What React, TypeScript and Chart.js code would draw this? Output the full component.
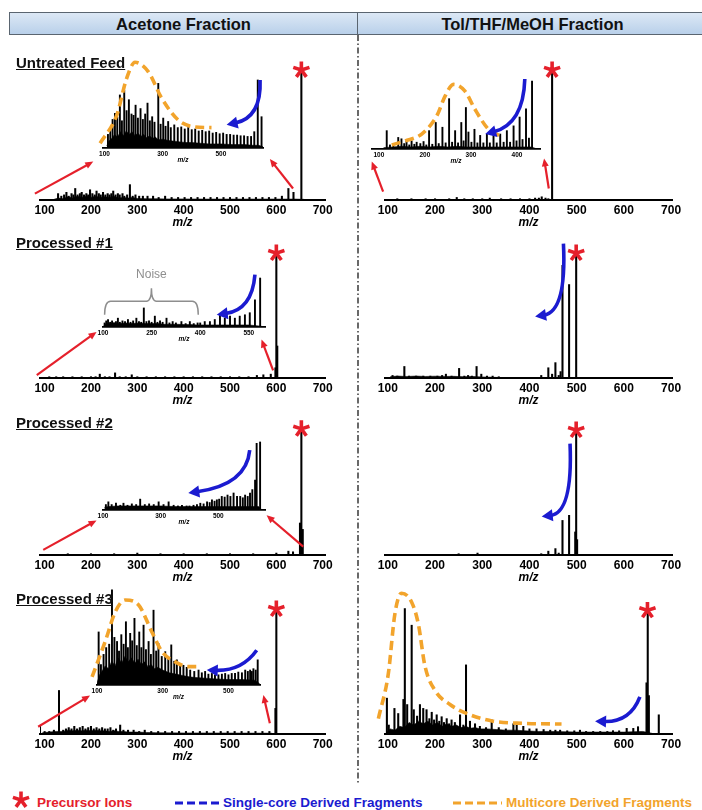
import React, { useEffect, useRef } from 'react';
import { Chart, registerables } from 'chart.js';

Chart.register(...registerables);

const FONT = "'Liberation Sans', Arial, Helvetica, sans-serif";
const RED = '#e5202b';
const BLUE = '#1b1bd0';
const ORANGE = '#f2a42c';
const GRAY = '#8e8e8e';

// ---------- tick labels ----------
const MAIN_TICKS = [100, 200, 300, 400, 500, 600, 700];
const INSET_TICKS_A = [100, 300, 500];
const INSET_TICKS_B = [100, 200, 300, 400];
const INSET_TICKS_C = [100, 250, 400, 550];

// ---------- Untreated feed, acetone ----------
const FEED_ACE_MZ = [129,136,142,147,152,158,162,166,171,176,180,185,190,194,198,203,208,212,217,221,226,231,236,240,244,248,253,258,262,268,272,278,284,290,296,304,312,322,334,346,360,374,388,402,416,430,444,458,472,486,500,514,528,542,556,570,584,598,612,626,637,654];
const FEED_ACE_INT = [5,3,4,6,3,5,4,9,4,5,6,4,5,4,8,5,4,7,5,4,6,4,5,4,5,7,4,5,4,5,3,4,12,3,4,3,3,3,3,2,3,2,2,2,2,2,2,2,2,2,2,2,2,2,2,2,2,2,3,9,6,100];
const FEED_ACE_BASE_MZ = [120,130,140,150,160,170,180,190,200,210,220,230,240,250,260,270,280,290,300,320,340,360,400,450,500,550,600,640,660];
const FEED_ACE_BASE_INT = [0.5,1.5,1,2.5,1.5,3,2,3,2,3,2,2.5,2,3,1.5,2,1.5,2,1.2,1,1,0.8,0.8,0.7,0.7,0.7,0.7,0.7,0.5];
const FEED_ACE_IN_MZ = [112,120,128,136,144,153,160,168,176,184,193,200,207,215,224,232,240,248,256,264,272,285,293,302,310,319,328,340,352,364,376,388,400,412,424,436,448,460,472,484,496,508,520,532,544,556,568,580,592,604,615,627,640];
const FEED_ACE_IN_INT = [20,30,42,51,45,78,40,85,55,71,50,48,63,44,58,42,50,66,40,46,38,95,35,44,32,39,30,34,30,31,28,30,27,28,25,26,24,25,22,23,21,22,20,20,19,19,18,18,17,17,24,100,46];
const FEED_ACE_IN_BASE_MZ = [108,115,125,135,145,155,165,175,185,195,205,215,225,235,245,255,265,275,285,300,320,340,360,380,400,430,460,500,540,580,610,630,645];
const FEED_ACE_IN_BASE_INT = [3,10,14,20,16,24,18,25,20,24,18,22,17,20,15,18,14,16,12,13,11,10,9,8,8,7,6,6,5,5,4,4,2];
const FEED_ACE_ENV_MZ = [85,142,176,205,251,297,354,411,468];
const FEED_ACE_ENV_INT = [7,48,102,126,112,73,41,31,30];

// ---------- Untreated feed, Tol/THF/MeOH ----------
const FEED_TOL_MZ = [120,150,180,200,230,246,262,280,300,316,340,360,380,400,412,420,426,434,440,448];
const FEED_TOL_INT = [1,1,1,1,1,2,1,1,1,1.5,1,1,1,1,1.5,1.5,2.5,1.5,1,100];
const FEED_TOL_IN_MZ = [117,124,131,142,149,155,160,166,171,177,182,190,197,203,209,216,223.5,230,238,245,252.5,259,265.6,272,279,284,289,294.5,301,307.6,314,320,327,334.6,341,349,356,363.6,371,378,385,392.6,399,405.7,412,419.6,426,432.7];
const FEED_TOL_IN_INT = [27,6,8,17,15,8,12,6,12,7,10,8,11,6,27,7,39,8,32,9,74,10,27,9,39,12,61,25,10,29,9,20,9,22,9,20,9,22,10,27,10,34,12,47,14,59,16,100];
const FEED_TOL_IN_BASE_MZ = [110,130,150,170,190,210,230,250,270,290,310,330,350,370,390,410,430,440];
const FEED_TOL_IN_BASE_INT = [2,3,4,3,4,3,4,3,4,3,3,3,3,3,3,3,3,1];
const FEED_TOL_ENV_MZ = [128,157,193,226,244,262,287,309,338,364];
const FEED_TOL_ENV_INT = [6,12,22,49,78,95,85,58,29,19];

// ---------- Processed #1 ----------
const P1_ACE_MZ = [110,125,140,160,180,200,210,219,230,240,252,262,275,288,300,320,340,360,380,400,420,440,460,480,500,520,540,558,572,588,598,600,602];
const P1_ACE_INT = [1,1,1,1,1,1,1,3,1,1,4,1,1,2.5,1,1,1,1,1,1,1,1,1,1,1,1,1,2,2.5,3,8,96,25];
const P1_ACE_IN_MZ = [105,110,115.5,122,128,134,140,146,152,160,168,177,185,193,203,211,218,226,234,242,250,260,268,276,284,296,305,315,325,342,355,368,380,392,400,414,430,445,461,476,492,507,522,538,553,569,585];
const P1_ACE_IN_INT = [6,9,11,7,9,6,8,13,7,9,8,11,7,9,13,8,7,28,8,9,7,16,7,9,7,13,6,8,6,8,5,8,5,6,6,8,8,11,18,13,16,13,16,18,21,40,72];
const P1_ACE_IN_BASE_MZ = [102,110,130,150,170,190,210,230,250,270,290,310,330,350,370,390,410,450,500,550,590];
const P1_ACE_IN_BASE_INT = [2,5,6,5,6,5,6,5,5,5,4,4,4,3.5,3.5,3,3,3,3,3,1];
const P1_TOL_MZ = [110,120,135,145,160,175,190,205,215,223,235,251,262,270,278,288,298,310,322,335,425,440,448,455,462,466,470,484,499];
const P1_TOL_INT = [2,1.5,9,1.5,1.5,1.5,1.5,1.5,2,3,1.5,7.5,1.5,2,1.5,9,3,1.5,1.5,1,2,8,3,12,2,5,88,73,96];
const P1_TOL_BASE_MZ = [105,120,140,160,180,200,220,240,260,280,300,320,340];
const P1_TOL_BASE_INT = [1,1.5,1.2,1.5,1.2,1.4,1.2,1.3,1,1.2,0.8,0.6,0.3];

// ---------- Processed #2 ----------
const P2_ACE_MZ = [150,200,250,300,350,400,450,500,550,600,626,636,651,654,657];
const P2_ACE_INT = [1,1,1,1.5,1,1,1,1,1,1.5,3,2.5,25,97,20];
const P2_ACE_IN_MZ = [110,118.6,130,145,160,171,185,200,215,229,245,260,276,293,310,327.6,345,360,374,390,400,414,426,437.6,449,461,470,478,487,495,503,512,522,532,542,553,565,576,585,593,602,610,618,627.6,633,645];
const P2_ACE_IN_INT = [8,12,8,10,7,10,7,9,8,16,8,9,8,12,8,12,7,6,7,6,6,7,8,10,9,12,11,15,13,15,16,20,19,22,20,25,20,20,18,22,20,25,30,44,98,100];
const P2_ACE_IN_BASE_MZ = [105,120,150,200,250,300,350,400,450,500,550,600,640,650];
const P2_ACE_IN_BASE_INT = [4,5,6,6,6,6,5,5,5,5,5,5,5,1];
const P2_TOL_MZ = [150,200,250,290,350,425,440,455,462,470,484,497,499,501];
const P2_TOL_INT = [0.5,0.5,1,1.5,0.5,1,3,5,1.5,27,31,18,96,12];

// ---------- Processed #3 ----------
const P3_ACE_MZ = [90,100,110,120,131,140,146,152,158,164,170,176,182,188,194,200,206,212,218,224,230,236,242,248,254,263,270,280,292,304,316,330,345,360,375,390,405,420,435,450,465,480,495,510,525,540,555,570,585,598,600];
const P3_ACE_INT = [6,2,2,3,34,3,4,5,4,6,4,5,6,4,5,6,4,5,4,5,4,4,5,3,4,7,3,3,3,2,3,2,2,2,2,2,2,2,2,2,2,2,2,2,2,2,2,2,2,20,96];
const P3_ACE_BASE_MZ = [95,110,125,140,150,160,170,180,190,200,210,220,230,240,250,260,270,280,300,320,340,400,500,590];
const P3_ACE_BASE_INT = [1,1.5,2,2,3,2.5,3,2.5,3,2.5,3,2.5,2.5,2,2.5,2,2,1.5,1.5,1.2,1,0.8,0.7,0.6];
const P3_ACE_IN_MZ = [105,112,120,128,137,145.6,153,161,167,174,181,188,194,201,207,214,221,228.6,235,241.7,249,257,264,272,280,287,297,307.6,317,326,335,343,353,363,373,383.6,396,409,419,429,439,449.5,459,469.6,480,490,500,510,520,530,541,551,559,566,571,576,583,589];
const P3_ACE_IN_INT = [78,30,45,55,60,140,70,64,50,74,60,93,55,76,65,98,58,78,55,88,52,64,45,110,50,61,42,49,40,59,35,37,30,29,26,22,20,22,18,20,16,17,15,15,16,17,15,17,17,19,18,22,20,22,20,24,22,37];
const P3_ACE_IN_BASE_MZ = [100,108,115,125,135,145,155,165,175,185,195,205,215,225,235,245,255,265,275,285,300,320,340,360,380,400,430,460,500,540,580,595];
const P3_ACE_IN_BASE_INT = [3,15,20,28,24,35,28,40,32,42,34,40,32,38,30,34,27,30,24,26,22,18,16,14,12,11,10,9,8,8,7,2];
const P3_ACE_ENV_MZ = [85,125,156,186,226,267,298,338,378,414];
const P3_ACE_ENV_INT = [12,64,108,125,118,78,49,34,27,27];
const P3_TOL_MZ = [98,102,114,122,133,136,141,150.5,155,162,168,175,182,188,193,198,203.5,209,214,219,224.7,230,235,242,253,260,265.6,274,284.7,295,308,320,335,350,366,373,387,400,415,430,444,455,465,480,495,507,520,535,550,565,577,590,606,620,630,648,650.6,653,674];
const P3_TOL_INT = [28,7,20,16,27,98,23,85,19,14,23,20,19,12,17,11,15,10,13.5,9,12,8,11,9,15,7,54,10,8,6,5,11,5,4,8,7,6,4,4,3.5,3,3,3,2.5,2.5,3,2,2,2,2,2.6,2.5,4.4,4.4,5.7,40,95,30,15];
const P3_TOL_BASE_MZ = [96,105,115,125,135,145,155,165,175,185,195,205,215,225,235,245,255,265,275,285,295,310,330,350,370,390,420,450,500,550,600,640,660];
const P3_TOL_BASE_INT = [1,4,3,6,5,9,7,10,8,10,7,9,6,8,6,7,5,6,4.5,5,4,4,3.5,3,3,2.5,2,2,1.5,1.5,1.5,2,0.5];
const P3_TOL_ENV_MZ = [80,101,115,129,150.5,164.6,178.7,200,231.7,274,323,387,468];
const P3_TOL_ENV_INT = [12,47,94,110,103,86,53,34,23,15,10,8.3,7.8];

// ---------- helpers ----------
type XY = { x: number; y: number };
const xy = (xs: number[], ys: number[]): XY[] => xs.map((x, i) => ({ x, y: ys[i] ?? 0 }));
const p = (x: number, y: number): XY => ({ x, y });

interface Marks {
  stars?: XY[];
  red?: XY[][];
  blue?: XY[][];
  bracket?: { x0: number; x1: number; yLow: number; yMid: number; yTip: number; label: string; labelY: number };
}

interface Spec {
  left: number; top: number; width: number; height: number;
  padL: number; padR: number; padT: number;
  xMin: number; xMax: number; yMax: number; ticks: number[];
  axisH: number; fontSize: number; tickPad: number; borderW: number; barW: number;
  peaks: XY[]; base?: XY[]; env?: XY[]; marks: Marks; inset: boolean;
}

function mainSpec(col: number, baseline: number, peaks: XY[], base: XY[] | undefined, env: XY[] | undefined, marks: Marks): Spec {
  return {
    left: col === 0 ? 0 : 358, top: baseline - 160, width: col === 0 ? 355 : 344, height: 190,
    padL: col === 0 ? 40 : 27, padR: 30, padT: 0,
    xMin: col === 0 ? 90 : 94, xMax: col === 0 ? 705 : 702, yMax: 125, ticks: MAIN_TICKS,
    axisH: 30, fontSize: 12, tickPad: 3.5, borderW: 2, barW: 1.4,
    peaks, base, env, marks, inset: false,
  };
}

function insetSpec(axL: number, axR: number, baseline: number, xMin: number, xMax: number, ticks: number[], peaks: XY[], base: XY[] | undefined, env: XY[] | undefined, marks: Marks): Spec {
  const l = Math.round(axL);
  const r = Math.round(axR);
  return {
    left: l - 25, top: baseline - 112, width: r - l + 50, height: 128,
    padL: 25, padR: 25, padT: 12,
    xMin, xMax, yMax: 147, ticks,
    axisH: 16, fontSize: 6.5, tickPad: 2.5, borderW: 1.8, barW: 1.25,
    peaks, base, env, marks, inset: true,
  };
}

function arrowHead(ctx: CanvasRenderingContext2D, x: number, y: number, ang: number, len: number, wid: number, color: string) {
  ctx.save();
  ctx.translate(x, y);
  ctx.rotate(ang);
  ctx.beginPath();
  ctx.moveTo(0, 0);
  ctx.lineTo(-len, wid / 2);
  ctx.lineTo(-len, -wid / 2);
  ctx.closePath();
  ctx.fillStyle = color;
  ctx.fill();
  ctx.restore();
}

function drawStar(ctx: CanvasRenderingContext2D, cx: number, cy: number, r: number, w: number, color: string) {
  ctx.save();
  ctx.strokeStyle = color;
  ctx.lineWidth = w;
  ctx.lineCap = 'butt';
  ctx.beginPath();
  for (let k = 0; k < 5; k++) {
    const a = -Math.PI / 2 + (k * 2 * Math.PI) / 5;
    ctx.moveTo(cx, cy);
    ctx.lineTo(cx + r * Math.cos(a), cy + r * Math.sin(a));
  }
  ctx.stroke();
  ctx.restore();
}

function marksPlugin(marks: Marks) {
  return {
    id: 'marks',
    afterDatasetsDraw(chart: any) {
      const ctx: CanvasRenderingContext2D = chart.ctx;
      const xs = chart.scales.x;
      const ys = chart.scales.y;
      const px = (v: number) => xs.getPixelForValue(v);
      const py = (v: number) => ys.getPixelForValue(v);
      ctx.save();
      (marks.red || []).forEach(([a, b]) => {
        const ax = px(a.x), ay = py(a.y), bx = px(b.x), by = py(b.y);
        const ang = Math.atan2(by - ay, bx - ax);
        const len = 8;
        ctx.strokeStyle = RED;
        ctx.lineWidth = 2.2;
        ctx.beginPath();
        ctx.moveTo(ax, ay);
        ctx.lineTo(bx - Math.cos(ang) * len * 0.8, by - Math.sin(ang) * len * 0.8);
        ctx.stroke();
        arrowHead(ctx, bx, by, ang, len, 7, RED);
      });
      (marks.blue || []).forEach(([a, c, b]) => {
        const ax = px(a.x), ay = py(a.y), cx = px(c.x), cy = py(c.y), bx = px(b.x), by = py(b.y);
        const ang = Math.atan2(by - cy, bx - cx);
        const len = 11;
        ctx.strokeStyle = BLUE;
        ctx.lineWidth = 3.6;
        ctx.lineCap = 'butt';
        ctx.beginPath();
        ctx.moveTo(ax, ay);
        ctx.quadraticCurveTo(cx, cy, bx - Math.cos(ang) * len * 0.8, by - Math.sin(ang) * len * 0.8);
        ctx.stroke();
        arrowHead(ctx, bx, by, ang, len, 12, BLUE);
      });
      if (marks.bracket) {
        const b = marks.bracket;
        const x0 = px(b.x0), x1 = px(b.x1), xm = (x0 + x1) / 2;
        const yl = py(b.yLow), ym = py(b.yMid), yt = py(b.yTip);
        ctx.strokeStyle = GRAY;
        ctx.lineWidth = 1.5;
        ctx.beginPath();
        ctx.moveTo(x0, yl);
        ctx.quadraticCurveTo(x0, ym, x0 + 6, ym);
        ctx.lineTo(xm - 5, ym);
        ctx.quadraticCurveTo(xm, ym, xm, yt);
        ctx.quadraticCurveTo(xm, ym, xm + 5, ym);
        ctx.lineTo(x1 - 6, ym);
        ctx.quadraticCurveTo(x1, ym, x1, yl);
        ctx.stroke();
        ctx.fillStyle = GRAY;
        ctx.font = `12px ${FONT}`;
        ctx.textAlign = 'center';
        ctx.textBaseline = 'middle';
        ctx.fillText(b.label, xm, py(b.labelY));
      }
      (marks.stars || []).forEach((s) => {
        drawStar(ctx, px(s.x), py(s.y) - 2, 8.5, 3.6, RED);
      });
      ctx.restore();
    },
  };
}

function Panel({ spec }: { spec: Spec }) {
  const ref = useRef<HTMLCanvasElement | null>(null);
  useEffect(() => {
    const canvas = ref.current;
    if (!canvas) return;
    const datasets: any[] = [];
    if (spec.env) {
      datasets.push({
        type: 'line', data: spec.env, borderColor: ORANGE, borderWidth: 3.6, borderDash: [9, 5],
        pointRadius: 0, fill: false, cubicInterpolationMode: 'monotone', clip: false, order: 0,
      });
    }
    datasets.push({
      type: 'bar', data: spec.peaks, backgroundColor: '#000', borderWidth: 0,
      barThickness: spec.barW, grouped: false, order: 1,
    });
    if (spec.base) {
      datasets.push({
        type: 'line', data: spec.base, borderColor: '#000', borderWidth: 0.6, backgroundColor: '#000',
        fill: 'origin', pointRadius: 0, tension: 0, order: 2,
      });
    }
    const chart = new Chart(canvas, {
      type: 'bar',
      data: { datasets },
      options: {
        responsive: false,
        maintainAspectRatio: false,
        animation: false,
        devicePixelRatio: 1,
        events: [],
        layout: { padding: { left: spec.padL, right: spec.padR, top: spec.padT, bottom: 0 } },
        plugins: { legend: { display: false }, tooltip: { enabled: false }, title: { display: false } },
        scales: {
          x: {
            type: 'linear', min: spec.xMin, max: spec.xMax, offset: false,
            afterBuildTicks: (s: any) => { s.ticks = spec.ticks.map((v) => ({ value: v })); },
            afterFit: (s: any) => { s.height = spec.axisH; },
            grid: { display: false, drawTicks: false },
            border: { display: true, color: '#000', width: spec.borderW },
            ticks: {
              autoSkip: false, maxRotation: 0, minRotation: 0, padding: spec.tickPad, color: '#000',
              font: { family: FONT, size: spec.fontSize, weight: 'bold' },
            },
            title: {
              display: true, text: 'm/z', color: '#000', padding: { top: 0, bottom: 0 },
              font: { family: FONT, size: spec.fontSize, weight: 'bold', style: 'italic' },
            },
          },
          y: { display: false, min: 0, max: spec.yMax },
        },
      } as any,
      plugins: [marksPlugin(spec.marks)],
    });
    return () => chart.destroy();
  }, [spec]);
  return (
    <canvas
      ref={ref}
      width={spec.width}
      height={spec.height}
      style={{ position: 'absolute', left: spec.left, top: spec.top, width: spec.width, height: spec.height }}
    />
  );
}

// ---------- panels ----------
const MAIN_SPECS: Spec[] = [
  mainSpec(0, 200, xy(FEED_ACE_MZ, FEED_ACE_INT), xy(FEED_ACE_BASE_MZ, FEED_ACE_BASE_INT), undefined, {
    stars: [p(654, 100)], red: [[p(79, 5), p(205, 30)], [p(636, 9), p(586, 32)]],
  }),
  mainSpec(1, 200, xy(FEED_TOL_MZ, FEED_TOL_INT), undefined, undefined, {
    stars: [p(448, 100)], red: [[p(90, 6.5), p(66, 30)], [p(441, 9), p(431, 32.5)]],
  }),
  mainSpec(0, 378, xy(P1_ACE_MZ, P1_ACE_INT), undefined, undefined, {
    stars: [p(600, 96)], red: [[p(83, 2.3), p(212, 36)], [p(593, 6), p(568, 30)]],
  }),
  mainSpec(1, 378, xy(P1_TOL_MZ, P1_TOL_INT), xy(P1_TOL_BASE_MZ, P1_TOL_BASE_INT), undefined, {
    stars: [p(499, 96)], blue: [[p(472, 105), p(479, 52), p(412, 48)]],
  }),
  mainSpec(0, 555, xy(P2_ACE_MZ, P2_ACE_INT), undefined, undefined, {
    stars: [p(654, 97)], red: [[p(97, 4), p(212, 27)], [p(658, 6.5), p(579, 31)]],
  }),
  mainSpec(1, 555, xy(P2_TOL_MZ, P2_TOL_INT), undefined, undefined, {
    stars: [p(499, 96)], blue: [[p(486, 87), p(492, 33), p(426, 30)]],
  }),
  mainSpec(0, 734, xy(P3_ACE_MZ, P3_ACE_INT), xy(P3_ACE_BASE_MZ, P3_ACE_BASE_INT), undefined, {
    stars: [p(600, 96)], red: [[p(86, 5.7), p(198, 30)], [p(586, 8.4), p(572, 30.5)]],
  }),
  mainSpec(1, 734, xy(P3_TOL_MZ, P3_TOL_INT), xy(P3_TOL_BASE_MZ, P3_TOL_BASE_INT), xy(P3_TOL_ENV_MZ, P3_TOL_ENV_INT), {
    stars: [p(650, 95)], blue: [[p(634, 29), p(613, 9), p(539, 10)]],
  }),
];

const INSET_SPECS: Spec[] = [
  insetSpec(103, 263, 148, 95, 645, INSET_TICKS_A, xy(FEED_ACE_IN_MZ, FEED_ACE_IN_INT), xy(FEED_ACE_IN_BASE_MZ, FEED_ACE_IN_BASE_INT), xy(FEED_ACE_ENV_MZ, FEED_ACE_ENV_INT), {
    blue: [[p(635, 100), p(640, 45), p(520, 34)]],
  }),
  insetSpec(372, 540, 149, 85, 450, INSET_TICKS_B, xy(FEED_TOL_IN_MZ, FEED_TOL_IN_INT), xy(FEED_TOL_IN_BASE_MZ, FEED_TOL_IN_BASE_INT), xy(FEED_TOL_ENV_MZ, FEED_TOL_ENV_INT), {
    blue: [[p(417, 103), p(414, 37), p(331, 22)]],
  }),
  insetSpec(103, 265, 327, 100, 600, INSET_TICKS_C, xy(P1_ACE_IN_MZ, P1_ACE_IN_INT), xy(P1_ACE_IN_BASE_MZ, P1_ACE_IN_BASE_INT), undefined, {
    blue: [[p(569, 77), p(560, 25), p(451, 18)]],
    bracket: { x0: 105, x1: 394, yLow: 18, yMid: 38, yTip: 57, label: 'Noise', labelY: 77 },
  }),
  insetSpec(103, 265, 510, 100, 662, INSET_TICKS_A, xy(P2_ACE_IN_MZ, P2_ACE_IN_INT), xy(P2_ACE_IN_BASE_MZ, P2_ACE_IN_BASE_INT), undefined, {
    blue: [[p(609, 88), p(598, 37), p(396, 25)]],
  }),
  insetSpec(97, 260, 685, 100, 596, INSET_TICKS_A, xy(P3_ACE_IN_MZ, P3_ACE_IN_INT), xy(P3_ACE_IN_BASE_MZ, P3_ACE_IN_BASE_INT), xy(P3_ACE_ENV_MZ, P3_ACE_ENV_INT), {
    blue: [[p(586, 51), p(540, 20), p(434, 22)]],
  }),
];

const ROW_LABELS = [
  { text: 'Untreated Feed', top: 54.7 },
  { text: 'Processed #1', top: 234.7 },
  { text: 'Processed #2', top: 414.7 },
  { text: 'Processed #3', top: 591.3 },
];

function StarSvg({ left, top }: { left: number; top: number }) {
  const lines = [0, 1, 2, 3, 4].map((k) => {
    const a = -Math.PI / 2 + (k * 2 * Math.PI) / 5;
    return <line key={k} x1={10} y1={10} x2={10 + 8.5 * Math.cos(a)} y2={10 + 8.5 * Math.sin(a)} stroke={RED} strokeWidth={3.6} />;
  });
  return (
    <svg width={20} height={20} style={{ position: 'absolute', left: left - 10, top: top - 10 }}>
      {lines}
    </svg>
  );
}

function Dashes({ x0, x1, y, color }: { x0: number; x1: number; y: number; color: string }) {
  return (
    <svg width={x1 - x0} height={6} style={{ position: 'absolute', left: x0, top: y - 3 }}>
      <line x1={0} y1={3} x2={x1 - x0} y2={3} stroke={color} strokeWidth={3} strokeDasharray="8 4" />
    </svg>
  );
}

export default function App() {
  const headText: React.CSSProperties = {
    position: 'absolute', top: 0, height: 22, lineHeight: '22px', textAlign: 'center',
    fontFamily: FONT, fontWeight: 'bold', fontSize: 16.5, color: '#111',
  };
  const legendText: React.CSSProperties = {
    position: 'absolute', top: 796, fontFamily: FONT, fontWeight: 'bold', fontSize: 13.5,
    lineHeight: '14px', whiteSpace: 'nowrap',
  };
  return (
    <div style={{ position: 'absolute', left: 0, top: 0, width: 702, height: 810, overflow: 'hidden', background: '#fff' }}>
      <div
        style={{
          position: 'absolute', left: 9, top: 12, width: 697, height: 23, boxSizing: 'border-box',
          background: 'linear-gradient(to bottom, #dce8f5, #b9d0ea)', border: '1px solid #5a6570',
        }}
      >
        <div style={{ ...headText, left: 0, width: 347 }}>Acetone Fraction</div>
        <div style={{ position: 'absolute', left: 347, top: 0, width: 1, height: 21, background: '#5a6570' }} />
        <div style={{ ...headText, left: 348, width: 349 }}>Tol/THF/MeOH Fraction</div>
      </div>

      {MAIN_SPECS.map((s, i) => <Panel key={'m' + i} spec={s} />)}
      {INSET_SPECS.map((s, i) => <Panel key={'i' + i} spec={s} />)}

      <svg width={10} height={750} style={{ position: 'absolute', left: 352.5, top: 35 }}>
        <line x1={5} y1={0} x2={5} y2={748} stroke="#444" strokeWidth={1.6} strokeDasharray="6 2.5 1.5 2.5" />
      </svg>

      {ROW_LABELS.map((r) => (
        <div
          key={r.text}
          style={{
            position: 'absolute', left: 16, top: r.top, fontFamily: FONT, fontWeight: 'bold', fontSize: 15,
            lineHeight: '15px', textDecoration: 'underline', color: '#111', whiteSpace: 'nowrap',
          }}
        >
          {r.text}
        </div>
      ))}

      <StarSvg left={21} top={800} />
      <div style={{ ...legendText, left: 37, color: RED }}>Precursor Ions</div>
      <Dashes x0={175} x1={219} y={803} color={BLUE} />
      <div style={{ ...legendText, left: 223, color: BLUE }}>Single-core Derived Fragments</div>
      <Dashes x0={453} x1={502} y={803} color={ORANGE} />
      <div style={{ ...legendText, left: 506, color: ORANGE }}>Multicore Derived Fragments</div>
    </div>
  );
}
